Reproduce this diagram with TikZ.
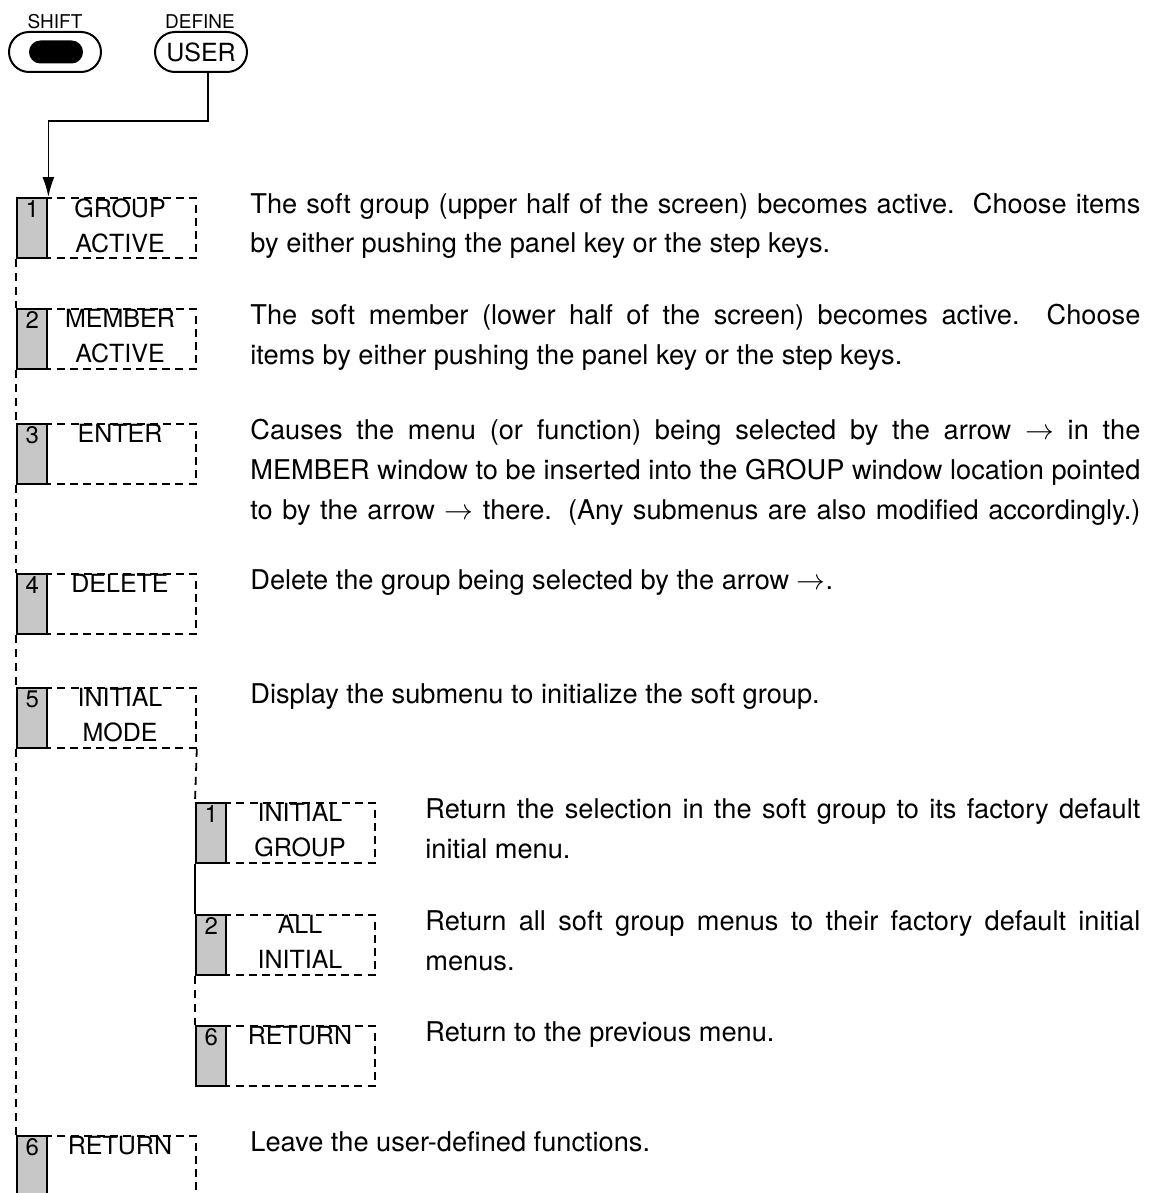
\documentclass[tikz,border=0pt]{standalone}
\usepackage{fontspec}
\setmainfont{TeX Gyre Heros}
\usetikzlibrary{arrows.meta,positioning,calc}

\begin{document}
\begin{tikzpicture}[x=0.5pt, y=-0.5pt,
    keybox/.style={draw, line width=0.9pt, dash pattern=on 4pt off 2.6pt, minimum width=89.5pt, minimum height=30pt, inner sep=0pt, anchor=north west},
    keytab/.style={draw, line width=1.2pt, fill=black!22, minimum width=15pt, minimum height=30pt, inner sep=0pt, anchor=north west, font=\fontsize{12}{13}\selectfont, text height=9.5pt, text depth=20.5pt},
    keytext/.style={font=\fontsize{12.5}{17.5}\selectfont, align=center, inner sep=0pt, anchor=north},
    desc/.style={font=\fontsize{13.6}{20}\selectfont, text width=445pt, align=justify, inner sep=0pt, anchor=base west},
    subdesc/.style={desc, text width=357.5pt},
    link/.style={line width=0.9pt, dash pattern=on 4pt off 3pt},
    hwkey/.style={draw, line width=1pt, rounded corners=10pt, minimum width=46pt, minimum height=20pt, inner sep=0pt},
    keyname/.style={font=\fontsize{9.5}{11}\selectfont, inner sep=0pt}]
  \useasboundingbox (0,0) rectangle (1163,1193);
  \fill[white] (0,0) rectangle (1163,1193);
  % panel keys
  \node[keyname] (shiftname) at (55,22) {SHIFT};
  \node[hwkey] (shift) at (55,52) {};
  \node[hwkey, fill=black, minimum width=26pt, minimum height=10.5pt, rounded corners=5.25pt] (shiftdot) at (56,52) {};
  \node[keyname] (definename) at (200,22) {DEFINE};
  \node[hwkey, font=\fontsize{12.5}{14}\selectfont] (user) at (201,52) {USER};
  % soft keys, level 1
  \node[keybox] (group) at (16,197) {};
  \node[keytab] (groupn) at (16,197) {1};
  \node[keytext] (groupl) at (120,198) {GROUP\\ACTIVE};
  \node[desc] (groupd) at (250,213) {The soft group (upper half of the screen) becomes active.\ \ Choose items\linebreak by either pushing the panel key or the step keys.};
  \node[keybox] (member) at (16,308) {};
  \node[keytab] (membern) at (16,308) {2};
  \node[keytext] (memberl) at (120,309) {MEMBER\\ACTIVE};
  \node[desc] (memberd) at (250,324) {The soft member (lower half of the screen) becomes active.\ \ Choose\linebreak items by either pushing the panel key or the step keys.};
  \node[keybox] (enter) at (16,423) {};
  \node[keytab] (entern) at (16,423) {3};
  \node[keytext] (enterl) at (120,424) {ENTER};
  \node[desc] (enterd) at (250,439) {\parfillskip=0pt Causes the menu (or function) being selected by the arrow $\rightarrow$ in the\linebreak MEMBER window to be inserted into the GROUP window location pointed\linebreak to by the arrow $\rightarrow$ there. (Any submenus are also modified accordingly.)\par};
  \node[keybox] (delete) at (16,573) {};
  \node[keytab] (deleten) at (16,573) {4};
  \node[keytext] (deletel) at (120,574) {DELETE};
  \node[desc] (deleted) at (250,589) {Delete the group being selected by the arrow $\rightarrow$.};
  \node[keybox] (initmode) at (16,687) {};
  \node[keytab] (initmoden) at (16,687) {5};
  \node[keytext] (initmodel) at (120,688) {INITIAL\\MODE};
  \node[desc] (initmoded) at (250,703) {Display the submenu to initialize the soft group.};
  \node[keybox] (ret) at (16,1135) {};
  \node[keytab] (retn) at (16,1135) {6};
  \node[keytext] (retl) at (120,1136) {RETURN};
  \node[desc] (retd) at (250,1151) {Leave the user-defined functions.};
  % soft keys, level 2
  \node[keybox] (igroup) at (195,802) {};
  \node[keytab] (igroupn) at (195,802) {1};
  \node[keytext] (igroupl) at (300,803) {INITIAL\\GROUP};
  \node[subdesc] (igroupd) at (425,818) {Return the selection in the soft group to its factory default\linebreak initial menu.};
  \node[keybox] (allinit) at (195,914) {};
  \node[keytab] (allinitn) at (195,914) {2};
  \node[keytext] (allinitl) at (300,915) {ALL\\INITIAL};
  \node[subdesc] (allinitd) at (425,930) {Return all soft group menus to their factory default initial\linebreak menus.};
  \node[keybox] (subret) at (195,1025) {};
  \node[keytab] (subretn) at (195,1025) {6};
  \node[keytext] (subretl) at (300,1026) {RETURN};
  \node[subdesc] (subretd) at (425,1041) {Return to the previous menu.};
  % connectors
  \draw[line width=0.9pt, -{Latex[length=10pt,width=6pt]}] ([xshift=3.5pt]user.south) -- ++(0,48) -| (groupn.north east);
  \draw[link] (groupn.south west) -- (membern.north west);
  \draw[link] (membern.south west) -- (entern.north west);
  \draw[link] (entern.south west) -- (deleten.north west);
  \draw[link] (deleten.south west) -- (initmoden.north west);
  \draw[link] (initmoden.south west) -- (retn.north west);
  \draw[link] (initmode.south east) -- (igroupn.north west);
  \draw[line width=0.9pt] (igroupn.south west) -- (allinitn.north west);
  \draw[link] (allinitn.south west) -- (subretn.north west);
\end{tikzpicture}
\end{document}
